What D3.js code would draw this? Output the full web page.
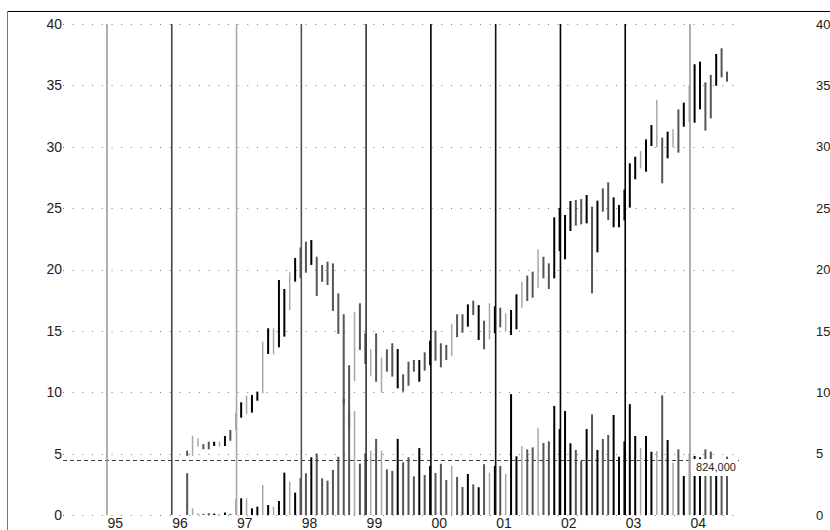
<!DOCTYPE html>
<html><head><meta charset="utf-8">
<script src="https://cdn.jsdelivr.net/npm/d3@7"></script>
<style>body{margin:0;background:#fff}svg{display:block}</style>
</head><body><div id="chart"></div>
<script>
// ---------------- DATA ----------------
const startYear = 1996, startMonth = 3; // first bar: April 1996
const highs = [
  5.24,6.46,6.25,5.78,5.97,5.97,5.97,6.44,6.92,
  8.3,9.18,9.72,9.78,10.05,14.12,15.21,15.21,19.14,18.41,19.77,20.94,
  21.8,22.27,22.4,21.04,20.37,20.64,20.5,18.06,16.35,12.2,16.56,17.25,
  14.8,13.5,14.8,12.82,13.5,13.99,13.52,11.46,12.49,12.63,12.63,13.25,
  14.2,15.02,13.99,13.85,15.56,16.35,16.35,17.16,17.46,17.1,15.83,17.25,
  17.0,16.89,16.43,16.7,17.98,19.01,19.5,19.82,21.65,21.04,20.5,24.25,
  25.0,24.44,25.58,25.66,25.74,26.07,25.12,25.61,26.61,27.1,25.88,25.25,
  26.5,28.65,29.19,29.65,30.6,31.77,33.81,30.74,31.23,31.45,33.05,33.59,
  35.0,36.72,36.93,35.25,35.85,37.56,38.02,36.12
];
const lows = [
  4.81,4.81,5.57,5.35,5.35,5.62,5.57,5.62,6.05,
  6.9,7.93,8.23,8.34,9.31,9.91,13.12,13.09,13.66,14.53,16.7,19.01,
  19.3,19.74,20.37,17.84,19.0,18.74,16.62,14.75,9.0,7.0,10.9,13.44,
  12.3,11.35,10.86,9.96,11.68,11.27,10.32,10.05,10.53,11.68,10.86,11.76,
  12.2,12.57,12.03,12.63,12.95,14.48,14.85,15.34,16.29,14.26,13.5,14.31,
  14.8,15.29,14.93,14.66,15.13,16.89,17.43,17.7,18.52,19.28,18.41,19.28,
  21.5,20.83,23.14,23.57,23.68,23.76,18.06,21.4,24.71,24.03,23.44,23.44,
  24.0,25.04,27.35,28.24,27.97,30.06,29.95,27.02,29.06,29.95,29.52,31.63,
  32.0,31.96,33.05,31.31,32.32,34.97,35.66,35.3
];
const volumes = [
  3.4,0.54,0.16,0.1,0.15,0.12,0.1,0.2,0.1,
  1.3,1.36,1.36,0.54,0.68,2.44,0.81,0.68,1.14,3.45,2.72,1.82,
  3.0,3.4,4.7,5.0,2.99,2.8,3.67,4.75,9.5,8.5,8.47,4.18,
  5.0,5.24,6.2,5.24,3.72,3.6,6.2,4.29,4.7,3.15,5.45,3.26,
  4.0,3.42,4.18,2.85,4.0,3.1,2.28,3.34,2.5,2.26,4.14,3.46,
  4.0,3.99,3.34,9.85,4.78,5.62,5.35,5.51,7.06,5.86,6.0,8.89,
  7.0,8.47,5.84,5.3,4.43,7.0,8.2,5.3,6.19,6.52,8.15,4.75,
  6.0,9.03,6.44,5.46,6.44,5.15,5.21,9.75,6.11,4.26,5.35,3.18,
  5.0,4.81,4.7,5.35,5.16,4.2,4.2,4.75
];
// shade class of each month's bar: 2 = strong, 1 = medium, 0 = weak
const trend = [
  1,0,0,1,1,2,0,2,1,
  0,2,0,2,2,0,2,0,2,2,0,2,
  1,1,2,1,1,1,1,1,1,1,0,1,
  1,0,1,0,1,1,2,1,1,1,2,1,
  2,1,1,1,0,1,1,2,1,2,1,0,
  2,1,0,2,2,0,1,1,0,1,1,2,
  2,2,2,1,1,2,1,2,1,1,2,2,
  2,2,2,0,2,2,0,1,2,0,1,2,
  0,2,2,1,1,2,1,1
];
const yearLabels = ["95","96","97","98","99","00","01","02","03","04"];
const yearValues = [1995,1996,1997,1998,1999,2000,2001,2002,2003,2004];
const yTicks = [0,5,10,15,20,25,30,35,40];
const avgVolume = 4.48;
const avgVolumeLabel = "824,000";

// ---------------- STYLE ----------------
const W = 830, H = 530;
const shade = {2:"#000000",1:"#555555",0:"#a8a8a8"};
const yearLineColor = {"95":"#9a9a9a","96":"#444444","97":"#aaaaaa","98":"#555555","99":"#333333",
  "00":"#000000","01":"#111111","02":"#000000","03":"#000000","04":"#9a9a9a"};

const svg = d3.select("#chart").append("svg").attr("width",W).attr("height",H);
svg.append("rect").attr("width",W).attr("height",H).attr("fill","#fff");

const x = d3.scaleLinear().domain([1995,2004]).range([107,690]);
const y = d3.scaleLinear().domain([0,40]).range([515,24]);
const gridX0 = 63, gridX1 = 736;

// frame
svg.append("line").attr("x1",7).attr("x2",W).attr("y1",11.5).attr("y2",11.5).attr("stroke","#000").attr("stroke-width",1.2);
svg.append("line").attr("x1",7.5).attr("x2",7.5).attr("y1",11).attr("y2",H).attr("stroke","#777").attr("stroke-width",1);

// dotted grid
svg.append("g").selectAll("line").data(yTicks).join("line")
  .attr("x1",gridX0).attr("x2",gridX1)
  .attr("y1",d=>Math.round(y(d))+0.5).attr("y2",d=>Math.round(y(d))+0.5)
  .attr("stroke","#777").attr("stroke-width",1).attr("stroke-dasharray","1,8.7");

// average volume dashed line
svg.append("line").attr("x1",gridX0).attr("x2",740)
  .attr("y1",Math.round(y(avgVolume))+0.5).attr("y2",Math.round(y(avgVolume))+0.5)
  .attr("stroke","#444").attr("stroke-width",1).attr("stroke-dasharray","4,3");

const months = highs.map((h,i)=>({
  t: startYear + (startMonth + i)/12,
  high: h, low: lows[i], vol: volumes[i], tr: trend[i]
}));
const bx = d => x(d.t) - 0.8;

// volume bars
svg.append("g").selectAll("line").data(months).join("line")
  .attr("x1",bx).attr("x2",bx)
  .attr("y1",y(0)).attr("y2",d=>y(d.vol))
  .attr("stroke",d=>shade[d.tr]).attr("stroke-width",d=>d.tr===0?1.5:2);

// price high-low bars
svg.append("g").selectAll("line").data(months).join("line")
  .attr("x1",bx).attr("x2",bx)
  .attr("y1",d=>y(d.high)).attr("y2",d=>y(d.low))
  .attr("stroke",d=>shade[d.tr]).attr("stroke-width",d=>d.tr===0?1.5:2);

// year lines
svg.append("g").selectAll("line").data(yearValues).join("line")
  .attr("x1",d=>x(d)).attr("x2",d=>x(d))
  .attr("y1",y(40)).attr("y2",y(0))
  .attr("stroke",(d,i)=>yearLineColor[yearLabels[i]]).attr("stroke-width",1.6);

// volume label box
const lastT = months[months.length-1].t;
const lbl = svg.append("g");
lbl.append("rect").attr("x",x(2004)+3).attr("y",y(avgVolume)-1).attr("width",45).attr("height",17).attr("fill","#fff");
lbl.append("text").attr("x",x(2004)+26).attr("y",y(avgVolume)+8).attr("text-anchor","middle")
  .attr("dominant-baseline","middle").attr("font-family","Liberation Sans, Arial, sans-serif")
  .attr("font-size",11).attr("fill","#222").text(avgVolumeLabel);

// axes
const font = "Liberation Sans, Arial, sans-serif";
const left = svg.append("g").attr("transform","translate(62,0)")
  .call(d3.axisLeft(y).tickValues(yTicks).tickSize(0).tickPadding(0).tickFormat(d3.format("d")));
const right = svg.append("g").attr("transform","translate(816,0)")
  .call(d3.axisRight(y).tickValues(yTicks).tickSize(0).tickPadding(0).tickFormat(d3.format("d")));
const bottom = svg.append("g").attr("transform","translate(0,518)")
  .call(d3.axisBottom(x).tickValues(yearValues).tickSize(0).tickPadding(0)
    .tickFormat((d,i)=>yearLabels[i]));
[left,right,bottom].forEach(g=>{
  g.select(".domain").remove();
  g.selectAll("text").attr("font-family",font).attr("font-size",13).attr("fill","#222");
});
bottom.selectAll("text").attr("text-anchor","start").attr("font-size",14);
left.selectAll("text").attr("font-size",14);
</script></body></html>
